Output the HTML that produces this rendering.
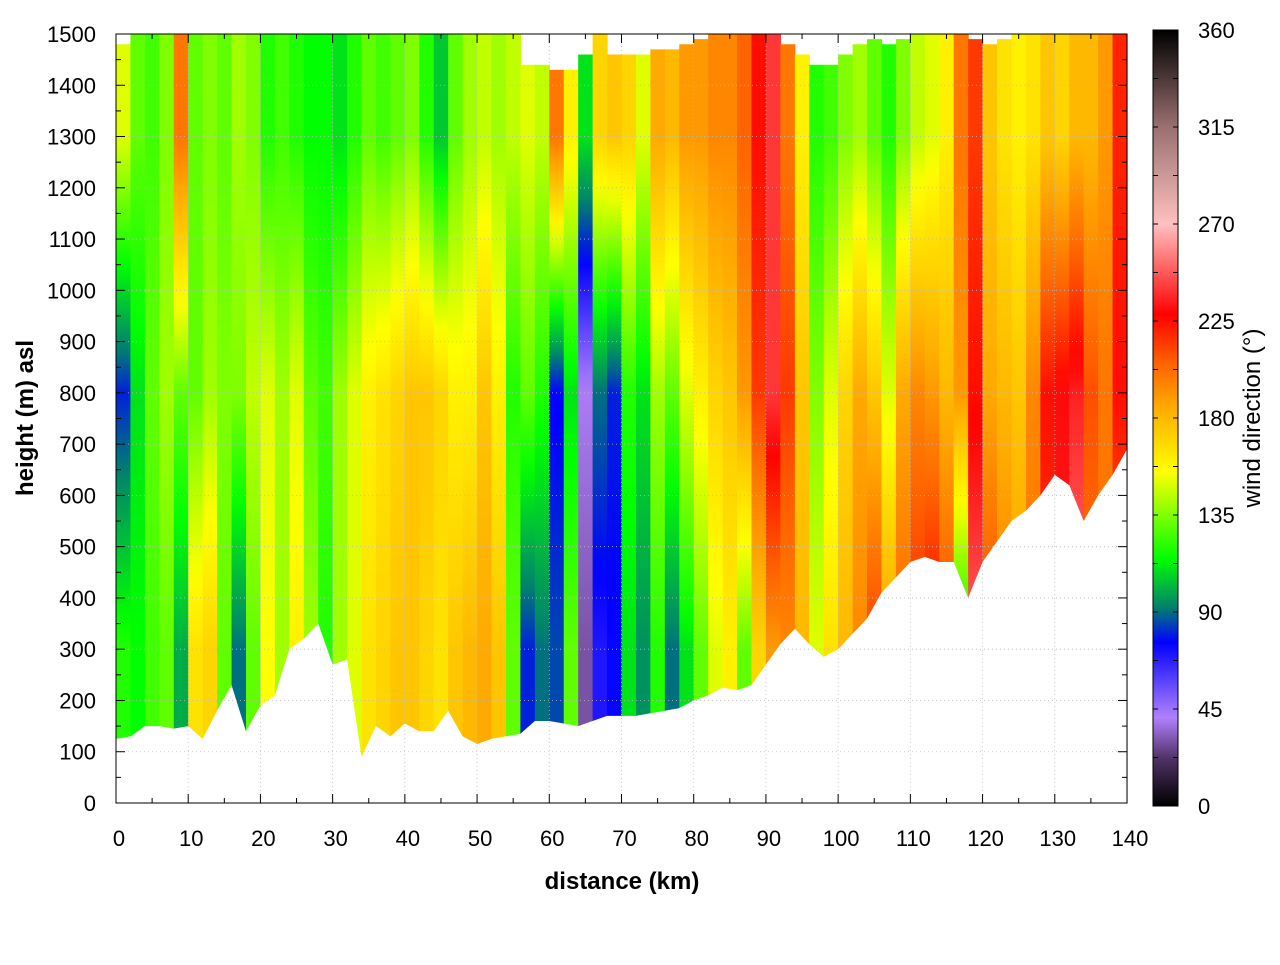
<!DOCTYPE html>
<html><head><meta charset="utf-8">
<style>
body{margin:0;background:#fff;}
svg text{font-family:"Liberation Sans",sans-serif;}
</style></head>
<body>
<svg id="chart" width="1280" height="960" viewBox="0 0 1280 960" xmlns="http://www.w3.org/2000/svg">
<defs id="defs"></defs>
<g id="heat"></g>
<g id="grid"></g>
<g id="axes"></g>
<g id="cbar"></g>
</svg>
<script>
// column centers (km), 2 km wide
const distances = [1,3,5,7,9,11,13,15,17,19,21,23,25,27,29,31,33,35,37,39,41,43,45,47,49,51,53,55,57,59,61,63,65,67,69,71,73,75,77,79,81,83,85,87,89,91,93,95,97,99,101,103,105,107,109,111,113,115,117,119,121,123,125,127,129,131,133,135,137,139];
// wind direction (deg) at ~300 m, ~800 m, ~1300 m
const dirLow = [120,115,125,130,100,165,170,130,90,130,155,140,160,140,120,140,150,165,170,175,175,170,165,175,180,185,175,130,80,90,85,130,30,70,75,110,95,120,90,110,130,150,160,130,170,190,195,180,150,165,180,195,215,190,205,220,230,215,110,250,215,200,190,200,215,235,255,200,200,200];
const dirMid = [80,110,130,140,130,130,140,135,135,145,150,140,150,130,125,140,150,160,165,170,175,175,170,160,160,175,160,120,130,120,75,110,40,90,80,120,110,140,130,150,160,170,175,190,215,240,215,175,135,150,170,185,175,150,185,195,190,180,190,225,185,180,175,195,225,230,235,210,200,225];
const dirHigh = [150,130,125,135,200,130,135,130,140,135,120,125,120,115,115,110,120,130,125,130,135,120,105,130,140,145,140,145,150,145,200,160,110,170,175,170,150,185,180,190,190,195,195,205,225,240,200,160,120,125,135,140,130,120,135,145,150,160,200,215,175,165,160,165,175,170,180,180,190,220];
// terrain (m) at km
const terrainKm = [0,2,4,6,8,10,12,14,16,18,20,22,24,26,28,30,32,34,36,38,40,42,44,46,48,50,52,54,56,58,60,62,64,66,68,70,72,74,76,78,80,82,84,86,88,90,92,94,96,98,100,102,104,106,108,110,112,114,116,118,120,122,124,126,128,130,132,134,136,138,140];
const terrainM = [125,130,150,150,145,150,125,180,230,140,190,210,300,320,350,270,280,90,150,130,155,140,140,180,130,115,125,130,135,160,160,155,150,160,170,170,170,175,180,185,200,210,225,220,230,270,310,340,310,285,300,330,360,410,440,470,480,470,470,400,470,510,550,570,600,640,620,550,600,640,690];
// data top (m) per column
const topM = [1480,1500,1500,1500,1500,1500,1500,1500,1500,1500,1500,1500,1500,1500,1500,1500,1500,1500,1500,1500,1500,1500,1500,1500,1500,1500,1500,1500,1440,1440,1430,1430,1460,1500,1460,1460,1460,1470,1470,1480,1490,1500,1500,1500,1500,1500,1480,1460,1440,1440,1460,1480,1490,1480,1490,1500,1500,1500,1500,1490,1480,1490,1500,1500,1500,1500,1500,1500,1500,1500];
const xTicks = [0,10,20,30,40,50,60,70,80,90,100,110,120,130,140];
const yTicks = [0,100,200,300,400,500,600,700,800,900,1000,1100,1200,1300,1400,1500];
const cTicks = [0,45,90,135,180,225,270,315,360];

const NS='http://www.w3.org/2000/svg';
const X0=116,X1=1127,Y0=803,Y1=34;
const xs=d=>X0+(d/140)*(X1-X0);
const ys=h=>Y0-(h/1500)*(Y0-Y1);
const CB={x:1153,w:25,y0:806,y1:30};
const cs=v=>CB.y0-(v/360)*(CB.y0-CB.y1);
const cmap=[[0,[0,0,0]],[22,[80,50,100]],[41,[176,128,255]],[76,[0,0,255]],[92,[0,128,110]],[115,[0,255,0]],[135,[128,255,0]],[155,[255,255,0]],[185,[255,170,0]],[205,[255,100,0]],[228,[255,0,0]],[270,[255,192,192]],[315,[154,112,112]],[360,[0,0,0]]];
function col(v){v=Math.max(0,Math.min(360,v));for(let i=1;i<cmap.length;i++){if(v<=cmap[i][0]){const a=cmap[i-1],b=cmap[i];const t=(v-a[0])/(b[0]-a[0]);const c=a[1].map((x,k)=>Math.round(x+(b[1][k]-x)*t));return `rgb(${c[0]},${c[1]},${c[2]})`;}}return 'rgb(0,0,0)';}
function mk(tag,attrs,parent){const e=document.createElementNS(NS,tag);for(const k in attrs)e.setAttribute(k,attrs[k]);parent.appendChild(e);return e;}
const defs=document.getElementById('defs'),heat=document.getElementById('heat'),grid=document.getElementById('grid'),axes=document.getElementById('axes'),cbar=document.getElementById('cbar');

// heatmap columns (colour interpolated in direction space)
distances.forEach((d,i)=>{
  const g=mk('linearGradient',{id:'g'+i,gradientUnits:'userSpaceOnUse',x1:0,x2:0,y1:ys(0),y2:ys(1500)},defs);
  const lv=[[300,dirLow[i]],[800,dirMid[i]],[1300,dirHigh[i]]];
  mk('stop',{offset:lv[0][0]/1500,'stop-color':col(lv[0][1])},g);
  for(let j=1;j<lv.length;j++){
    const [h0,v0]=lv[j-1],[h1,v1]=lv[j];
    for(let s=1;s<=12;s++){const t=s/12;mk('stop',{offset:(h0+(h1-h0)*t)/1500,'stop-color':col(v0+(v1-v0)*t)},g);}
  }
  const r=mk('rect',{x:xs(d-1),y:ys(topM[i]),width:xs(2)-xs(0)+0.6,height:ys(0)-ys(topM[i]),fill:`url(#g${i})`},heat);
  
  
});
// terrain mask
let p=`M${X0},${Y0} `;
terrainKm.forEach((k,i)=>{p+=`L${xs(k)},${ys(terrainM[i])} `;});
p+=`L${X1},${Y0} Z`;
const terr=mk('path',{d:p,fill:'#fff'},heat);



// grid
xTicks.forEach(t=>{if(t>0&&t<140)mk('line',{x1:xs(t),x2:xs(t),y1:Y1,y2:Y0,stroke:'#bbb','stroke-width':0.8,'stroke-dasharray':'1,3'},grid);});
yTicks.forEach(t=>{if(t>0&&t<1500)mk('line',{x1:X0,x2:X1,y1:ys(t),y2:ys(t),stroke:'#bbb','stroke-width':0.8,'stroke-dasharray':'1,3'},grid);});

// axes frame
mk('rect',{x:X0,y:Y1,width:X1-X0,height:Y0-Y1,fill:'none',stroke:'#000','stroke-width':1},axes);
xTicks.forEach(t=>{
  mk('line',{x1:xs(t),x2:xs(t),y1:Y0,y2:Y0-9,stroke:'#000'},axes);
  mk('line',{x1:xs(t),x2:xs(t),y1:Y1,y2:Y1+9,stroke:'#000'},axes);
  if(t<140){mk('line',{x1:xs(t+5),x2:xs(t+5),y1:Y0,y2:Y0-5,stroke:'#000'},axes);mk('line',{x1:xs(t+5),x2:xs(t+5),y1:Y1,y2:Y1+5,stroke:'#000'},axes);}
  const tx=mk('text',{x:xs(t)+3,y:846,'font-size':22,'text-anchor':'middle'},axes);tx.textContent=t;
  
  
});
yTicks.forEach(t=>{
  mk('line',{x1:X0,x2:X0+9,y1:ys(t),y2:ys(t),stroke:'#000'},axes);
  mk('line',{x1:X1,x2:X1-9,y1:ys(t),y2:ys(t),stroke:'#000'},axes);
  if(t<1500){mk('line',{x1:X0,x2:X0+5,y1:ys(t+50),y2:ys(t+50),stroke:'#000'},axes);mk('line',{x1:X1,x2:X1-5,y1:ys(t+50),y2:ys(t+50),stroke:'#000'},axes);}
  const tx=mk('text',{x:96,y:ys(t)+8,'font-size':22,'text-anchor':'end'},axes);tx.textContent=t;
  
  
});
const xt=mk('text',{x:622,y:889,'font-size':24,'font-weight':'bold','text-anchor':'middle'},axes);xt.textContent='distance (km)';


const yt=mk('text',{x:0,y:0,'font-size':24,'font-weight':'bold','text-anchor':'middle',transform:'translate(33,418) rotate(-90)'},axes);yt.textContent='height (m) asl';



// colorbar
const cg=mk('linearGradient',{id:'cbg',x1:0,x2:0,y1:1,y2:0},defs);
cmap.forEach(([v])=>{mk('stop',{offset:v/360,'stop-color':col(v)},cg);});
mk('rect',{x:CB.x,y:CB.y1,width:CB.w,height:CB.y0-CB.y1,fill:'url(#cbg)',stroke:'#000','stroke-width':1},cbar);
for(let v=0;v<=360;v+=22.5){mk('line',{x1:CB.x,x2:CB.x+5,y1:cs(v),y2:cs(v),stroke:'#000'},cbar);mk('line',{x1:CB.x+CB.w,x2:CB.x+CB.w-5,y1:cs(v),y2:cs(v),stroke:'#000'},cbar);}
cTicks.forEach(v=>{
  const tx=mk('text',{x:1198,y:cs(v)+8,'font-size':22},cbar);tx.textContent=v;
  
  
});
const ct=mk('text',{x:0,y:0,'font-size':24,'text-anchor':'middle',transform:'translate(1260,418) rotate(-90)'},cbar);ct.textContent='wind direction (°)';


</script>
</body></html>
